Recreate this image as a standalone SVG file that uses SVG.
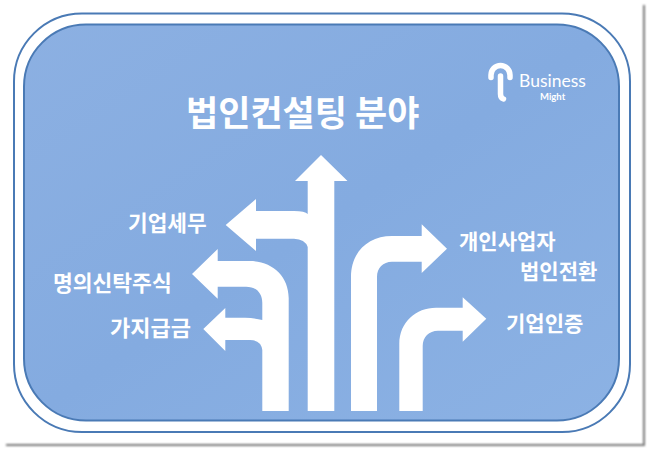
<svg xmlns="http://www.w3.org/2000/svg" width="650" height="452" viewBox="0 0 650 452">
<defs>
<linearGradient id="bg" x1="0" y1="0" x2="1" y2="1"><stop offset="0" stop-color="#8cb0e2"/><stop offset="0.5" stop-color="#84abe0"/><stop offset="1" stop-color="#8cb2e4"/></linearGradient>
<filter id="sh" x="-5%" y="-5%" width="110%" height="110%"><feGaussianBlur stdDeviation="1.200"/></filter>
</defs>
<style>
.a{fill:#fff}
.t{fill:#fff;font-family:"Noto Sans CJK KR","Noto Sans",sans-serif;font-weight:700}
</style>
<rect width="650" height="452" fill="#fff"/>
<path d="M643 5H645V446H6V444H643Z" fill="#777" filter="url(#sh)"/>
<rect x="14" y="13.500" width="616" height="418.500" rx="68" fill="#fff" stroke="#4a7ab5" stroke-width="2"/>
<rect x="24" y="24.500" width="595" height="396" rx="62" fill="url(#bg)" stroke="#4a7ab5" stroke-width="2"/>
<g id="logo">
<path d="M491 77.500V75A9.500 9.500 0 0 1 510 75V77.500" fill="none" stroke="#fff" stroke-width="5.500" stroke-linecap="round"/>
<path d="M500.500 76V94Q500.500 98 503.500 99" fill="none" stroke="#fff" stroke-width="5.500" stroke-linecap="round"/>
<text x="519" y="87" font-family="Lato,sans-serif" font-size="17.500" fill="#fff">Business</text>
<text x="540" y="100" font-family="Lato,sans-serif" font-size="9.500" font-weight="700" fill="#fff">Might</text>
</g>
<g id="connectors">
<path id="arrow-up" class="a" d="M321 155L347.500 181H334.300V411H307.700V247Q305 239 294 238.700H256V251L225.700 225L256 199V211H294Q305 211 307.700 214V181H295Z"/>
<path id="arrow-mid" class="a" d="M192 274L217.700 249V261H250C272 261 288.700 276 288.700 298V411H262.300V350Q261 340 250 340H225.300V351L203.300 329L225.300 308V317.700H245Q255 318 262.300 320V303C262.300 293 256 286.700 246 286.700H217.700V298.700Z"/>
<path id="arrow-right-1" class="a" d="M447 248.700L421.700 273V261.700H392C383 261.700 377 268 377 277V411H351V277C351 252 368 236 392 236H421.700V224.300Z"/>
<path id="arrow-right-2" class="a" d="M486.300 318.700L462.700 341.700V330.700H438C429 330.700 422.700 337 422.700 346V411H399.300V344C399.300 322 416 307.700 436 307.700H462.700V297.300Z"/>
</g>
<g id="title"><text class="t" x="186" y="126" font-size="35">법인컨설팅 분야</text></g>
<g id="n1"><text class="t" font-size="21.400" x="128" y="231">기업세무</text></g>
<g id="n2"><text class="t" font-size="21.500" x="53" y="291">명의신탁주식</text></g>
<g id="n3"><text class="t" font-size="22" x="110" y="336">가지급금</text></g>
<g id="n4"><text class="t" font-size="21" x="459" y="249">개인사업자</text></g>
<g id="n5"><text class="t" font-size="21" x="520" y="279">법인전환</text></g>
<g id="n6"><text class="t" font-size="21" x="506" y="331">기업인증</text></g>
</svg>
